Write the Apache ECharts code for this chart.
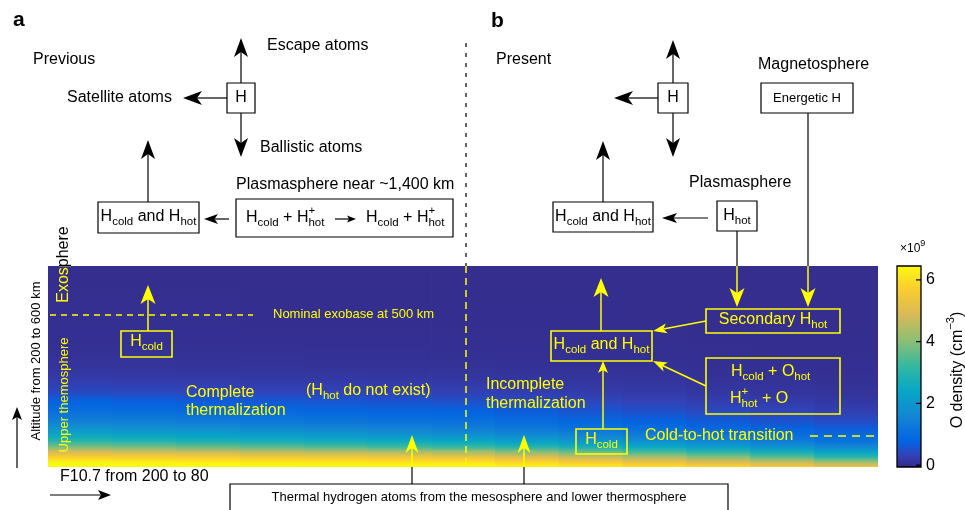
<!DOCTYPE html>
<html>
<head>
<meta charset="utf-8">
<script src="https://cdn.jsdelivr.net/npm/echarts@6/dist/echarts.min.js"></script>
<style>html,body{margin:0;padding:0;background:#fff}#c{width:965px;height:510px}</style>
</head>
<body>
<div id="c"></div>
<script>
// ---------------- DATA ----------------
// Solar flux (F10.7) columns, left to right
const f107 = [200, 190, 180, 170, 160, 150, 140, 130, 120, 110, 100, 90, 80];
// Altitude levels (km) at which O density is read
const altitudeKm = [200, 205, 210, 215, 220, 230, 240, 250, 260, 275, 290, 310, 330, 350, 375, 400, 450, 500, 600];
// O density (x1e9 cm^-3) at each altitude level, one array per F10.7 column
const densityF200 = [6.45, 6.40, 6.30, 6.00, 5.70, 4.90, 3.90, 3.10, 2.60, 2.00, 1.50, 1.05, 0.78, 0.42, 0.22, 0.10, 0.04, 0.02, 0.00];
const densityF190 = [6.45, 6.40, 6.25, 5.95, 5.65, 4.80, 3.80, 3.00, 2.50, 1.92, 1.45, 1.00, 0.73, 0.40, 0.21, 0.10, 0.04, 0.02, 0.00];
const densityF180 = [6.45, 6.40, 6.20, 5.90, 5.60, 4.70, 3.70, 2.90, 2.40, 1.85, 1.38, 0.96, 0.68, 0.38, 0.20, 0.09, 0.04, 0.02, 0.00];
const densityF170 = [6.45, 6.35, 6.15, 5.85, 5.50, 4.60, 3.55, 2.80, 2.30, 1.75, 1.30, 0.91, 0.64, 0.36, 0.19, 0.09, 0.03, 0.01, 0.00];
const densityF160 = [6.40, 6.35, 6.10, 5.80, 5.45, 4.50, 3.45, 2.70, 2.20, 1.65, 1.23, 0.86, 0.60, 0.34, 0.18, 0.08, 0.03, 0.01, 0.00];
const densityF150 = [6.40, 6.30, 6.05, 5.75, 5.40, 4.40, 3.30, 2.60, 2.10, 1.55, 1.16, 0.82, 0.56, 0.32, 0.17, 0.08, 0.03, 0.01, 0.00];
const densityF140 = [6.40, 6.30, 6.00, 5.70, 5.30, 4.30, 3.20, 2.50, 2.00, 1.45, 1.10, 0.78, 0.52, 0.30, 0.16, 0.07, 0.03, 0.01, 0.00];
const densityF130 = [6.30, 6.15, 5.80, 5.45, 5.00, 4.00, 2.95, 2.30, 1.83, 1.32, 0.99, 0.69, 0.45, 0.26, 0.14, 0.06, 0.02, 0.01, 0.00];
const densityF120 = [6.20, 5.95, 5.55, 5.15, 4.65, 3.70, 2.70, 2.10, 1.66, 1.19, 0.88, 0.60, 0.39, 0.22, 0.12, 0.05, 0.02, 0.01, 0.00];
const densityF110 = [6.00, 5.70, 5.25, 4.80, 4.30, 3.35, 2.45, 1.88, 1.48, 1.06, 0.77, 0.52, 0.33, 0.19, 0.10, 0.05, 0.02, 0.00, 0.00];
const densityF100 = [5.80, 5.45, 4.95, 4.45, 3.95, 3.00, 2.20, 1.66, 1.30, 0.93, 0.67, 0.44, 0.27, 0.16, 0.08, 0.04, 0.01, 0.00, 0.00];
const densityF90  = [5.55, 5.15, 4.60, 4.05, 3.50, 2.65, 1.93, 1.43, 1.12, 0.81, 0.57, 0.37, 0.22, 0.13, 0.07, 0.03, 0.01, 0.00, 0.00];
const densityF80  = [5.30, 4.80, 4.20, 3.60, 3.00, 2.30, 1.65, 1.20, 0.95, 0.70, 0.48, 0.30, 0.17, 0.10, 0.05, 0.03, 0.01, 0.00, 0.00];
const oDensity = [densityF200, densityF190, densityF180, densityF170, densityF160, densityF150, densityF140,
                  densityF130, densityF120, densityF110, densityF100, densityF90, densityF80];
// Colour bar
const colorbarTicks = [0, 2, 4, 6];
const colorRange = [-0.06, 6.45];

// ---------------- STYLE ----------------
const FONT = '"Liberation Sans", Arial, Helvetica, sans-serif';
const YEL = '#ffff00';
const PARULA = [[0, '#352a87'], [4/63, '#3243ba'], [8/63, '#0363e1'], [16/63, '#1485d4'], [24/63, '#06a7c6'], [32/63, '#38b99e'],
                [40/63, '#92bf73'], [48/63, '#d9ba56'], [56/63, '#fcce2e'], [1, '#f9fb0e']];

function hex2rgb(h) { return [parseInt(h.slice(1, 3), 16), parseInt(h.slice(3, 5), 16), parseInt(h.slice(5, 7), 16)]; }
function colorOf(v) {
  let t = (v - colorRange[0]) / (colorRange[1] - colorRange[0]);
  t = Math.max(0, Math.min(1, t));
  for (let i = 1; i < PARULA.length; i++) {
    if (t <= PARULA[i][0]) {
      const a = PARULA[i - 1], b = PARULA[i];
      const u = (t - a[0]) / (b[0] - a[0]);
      const ca = hex2rgb(a[1]), cb = hex2rgb(b[1]);
      return 'rgb(' + ca.map((c, k) => Math.round(c + (cb[k] - c) * u)).join(',') + ')';
    }
  }
  return PARULA[PARULA.length - 1][1];
}

const mctx = document.createElement('canvas').getContext('2d');
function textWidth(s, size, weight) { mctx.font = (weight || 'normal') + ' ' + size + 'px ' + FONT; return mctx.measureText(s).width; }
function txt(s, x, y, o) {
  o = o || {};
  const size = o.size || 16;
  return { type: 'text', x: x, y: y, z: o.z == null ? 100 : o.z, silent: true,
    style: { text: s, font: (o.weight || 'normal') + ' ' + size + 'px ' + FONT, fill: o.color || '#000',
      textAlign: o.align || 'left', textVerticalAlign: 'middle', align: o.align || 'left', verticalAlign: 'middle' } };
}
function mtext(segs, x, y, o) {
  o = o || {};
  const size = o.size || 16, small = o.small || 11.5, color = o.color || '#000';
  const items = []; let w = 0;
  segs.forEach(s => {
    if (typeof s === 'string') { items.push({ t: s, dx: w, dy: 0, size: size }); w += textWidth(s, size); }
    else {
      let ww = 0;
      if (s.sup != null) { items.push({ t: s.sup, dx: w, dy: -size * 0.42, size: small }); ww = Math.max(ww, textWidth(s.sup, small)); }
      if (s.sub != null) { items.push({ t: s.sub, dx: w, dy: size * 0.29, size: small }); ww = Math.max(ww, textWidth(s.sub, small)); }
      w += ww;
    }
  });
  const x0 = o.align === 'center' ? x - w / 2 : x;
  return items.map(it => txt(it.t, x0 + it.dx, y + it.dy, { size: it.size, color: color, z: o.z }));
}
function rotGroup(children, x, y, z) {
  return { type: 'group', x: x, y: y, rotation: Math.PI / 2, z: z == null ? 100 : z, children: children };
}
function rect(x, y, w, h, o) {
  o = o || {};
  return { type: 'rect', z: 99, silent: true, shape: { x: x, y: y, width: w, height: h },
    style: { fill: o.fill || 'rgba(0,0,0,0)', stroke: o.color || '#000', lineWidth: o.lw || 1.2 } };
}
function seg(x1, y1, x2, y2, o) {
  o = o || {};
  return { type: 'line', z: 100, silent: true, shape: { x1: x1, y1: y1, x2: x2, y2: y2 },
    style: { stroke: o.color || '#000', lineWidth: o.lw || 1.2, lineDash: o.dash || null } };
}
function arrow(x1, y1, x2, y2, o) {
  o = o || {};
  const L = o.L || 19, W = o.W || 7, N = o.N == null ? 5 : o.N, color = o.color || '#000', lw = o.lw || 1.2;
  const dx = x2 - x1, dy = y2 - y1, len = Math.hypot(dx, dy), ux = dx / len, uy = dy / len, px = -uy, py = ux;
  const bx = x2 - ux * L, by = y2 - uy * L, nx = x2 - ux * (L - N), ny = y2 - uy * (L - N);
  return [
    { type: 'line', z: 100, silent: true, shape: { x1: x1, y1: y1, x2: nx, y2: ny }, style: { stroke: color, lineWidth: lw } },
    { type: 'polygon', z: 100, silent: true, shape: { points: [[x2, y2], [bx + px * W, by + py * W], [nx, ny], [bx - px * W, by - py * W]] }, style: { fill: color } }
  ];
}

// ---------------- ANNOTATIONS ----------------
const G = [];
const add = a => Array.isArray(a) ? a.forEach(e => G.push(e)) : G.push(a);
// panel a
add(txt('a', 13, 20, { size: 21, weight: 'bold' }));
add(txt('Previous', 33, 60));
add(txt('Escape atoms', 267, 46));
add(txt('Satellite atoms', 67, 98));
add(txt('Ballistic atoms', 260, 147.5));
add(rect(227, 83, 28, 30, { fill: '#fff' }));
add(txt('H', 241, 98, { align: 'center' }));
add(arrow(241, 83, 241, 38));
add(arrow(227, 98, 183, 98));
add(arrow(241, 113, 241, 157));
add(rect(98, 202, 101, 31, { fill: '#fff' }));
add(mtext(['H', { sub: 'cold' }, ' and H', { sub: 'hot' }], 148.5, 217, { align: 'center' }));
add(arrow(148, 202, 148, 140));
add(txt('Plasmasphere near ~1,400 km', 236, 184.5));
add(rect(236, 199, 217, 38, { fill: '#fff' }));
add(mtext(['H', { sub: 'cold' }, ' + H', { sup: '+', sub: 'hot' }], 246, 218));
add(arrow(335, 219, 356, 219, { L: 9, W: 3.5, N: 2 }));
add(mtext(['H', { sub: 'cold' }, ' + H', { sup: '+', sub: 'hot' }], 366, 218));
add(arrow(229, 219, 204, 219, { L: 14, W: 5, N: 3.5 }));
// separator
add(seg(466, 43, 466, 266, { dash: [4, 6], lw: 1.2 }));
add(seg(466, 266, 466, 467, { dash: [7, 5], lw: 1.5, color: YEL }));
// panel b
add(txt('b', 491, 21, { size: 21, weight: 'bold' }));
add(txt('Present', 496, 60));
add(rect(658, 83, 30, 30, { fill: '#fff' }));
add(txt('H', 673, 98, { align: 'center' }));
add(arrow(673, 83, 673, 40));
add(arrow(658, 98, 614, 98));
add(arrow(673, 113, 673, 157));
add(txt('Magnetosphere', 758, 65));
add(rect(761, 83, 92, 30, { fill: '#fff' }));
add(txt('Energetic H', 807, 98, { size: 13, align: 'center' }));
add(txt('Plasmasphere', 689, 182.5));
add(rect(717, 201, 40, 30, { fill: '#fff' }));
add(mtext(['H', { sub: 'hot' }], 737, 216, { align: 'center' }));
add(rect(553, 202, 100, 30, { fill: '#fff' }));
add(mtext(['H', { sub: 'cold' }, ' and H', { sub: 'hot' }], 603, 217, { align: 'center' }));
add(arrow(603, 202, 603, 141));
add(arrow(708, 218, 662, 218, { L: 15, W: 5, N: 3.5 }));
add(seg(808, 113, 808, 266));
add(arrow(808, 266, 808, 307, { color: YEL, lw: 1.5, W: 7.5 }));
add(seg(737, 231, 737, 266));
add(arrow(737, 266, 737, 307, { color: YEL, lw: 1.5, W: 7.5 }));
// axes hints
add(rotGroup([txt('Altitude from 200 to 600 km', 0, 0, { size: 13, align: 'center' })], 36, 361));
add(arrow(17, 468, 17, 407, { L: 13, W: 5, N: 3 }));
add(txt('F10.7 from 200 to 80', 60, 477));
add(arrow(50, 495, 111, 495, { L: 13, W: 5, N: 3 }));
// bottom source box
add(rect(230, 484, 498, 32, { fill: '#fff' }));
add(txt('Thermal hydrogen atoms from the mesosphere and lower thermosphere', 479, 497, { size: 13, align: 'center' }));
add(seg(412, 484, 412, 467));
add(arrow(412, 467, 412, 435, { color: YEL, lw: 1.5, L: 18, W: 6.5 }));
add(seg(524, 484, 524, 467));
add(arrow(524, 467, 524, 435, { color: YEL, lw: 1.5, L: 18, W: 6.5 }));
// black part of "Exosphere" (under the heat map)
add(rotGroup([txt('Exosphere', 0, 0, { align: 'center', z: 0 })], 64, 264.5, 0));
// yellow annotations on the heat map
add(rotGroup([txt('Upper themosphere', 0, 0, { size: 13, align: 'center', color: YEL })], 64, 395));
add(seg(50, 315, 253, 315, { dash: [6, 5], lw: 1.6, color: YEL }));
add(txt('Nominal exobase at 500 km', 273, 314, { size: 13, color: YEL }));
add(rect(121, 331, 51, 26, { color: YEL, lw: 1.6 }));
add(mtext(['H', { sub: 'cold' }], 146.5, 342, { align: 'center', color: YEL }));
add(arrow(148, 331, 148, 285, { color: YEL, lw: 1.5, W: 7.5 }));
add(txt('Complete', 186, 393, { color: YEL }));
add(txt('thermalization', 186, 411, { color: YEL }));
add(mtext(['(H', { sub: 'hot' }, ' do not exist)'], 306, 391, { color: YEL }));
add(txt('Incomplete', 486, 385, { color: YEL }));
add(txt('thermalization', 486, 404, { color: YEL }));
add(rect(576, 429, 51, 25, { color: YEL, lw: 1.6 }));
add(mtext(['H', { sub: 'cold' }], 601.5, 440, { align: 'center', color: YEL }));
add(arrow(603, 429, 603, 361, { color: YEL, lw: 1.5, L: 12, W: 5, N: 3 }));
add(rect(551, 331, 101, 30, { color: YEL, lw: 1.6 }));
add(mtext(['H', { sub: 'cold' }, ' and H', { sub: 'hot' }], 601.5, 345, { align: 'center', color: YEL }));
add(arrow(601, 331, 601, 278, { color: YEL, lw: 1.5, W: 7.5 }));
add(rect(706, 309, 134, 24, { color: YEL, lw: 1.6 }));
add(mtext(['Secondary H', { sub: 'hot' }], 773, 320, { align: 'center', color: YEL }));
add(arrow(706, 321, 653, 331, { color: YEL, lw: 1.5, L: 14, W: 5, N: 3.5 }));
add(rect(706, 358, 134, 56, { color: YEL, lw: 1.6 }));
add(mtext(['H', { sub: 'cold' }, ' + O', { sub: 'hot' }], 731, 372, { color: YEL }));
add(mtext(['H', { sup: '+', sub: 'hot' }, ' + O'], 730, 399, { color: YEL }));
add(arrow(706, 386, 653, 361, { color: YEL, lw: 1.5, L: 14, W: 5, N: 3.5 }));
add(txt('Cold-to-hot transition', 645, 436, { color: YEL }));
add(seg(810, 436, 878, 436, { dash: [8, 6], lw: 1.6, color: YEL }));
// colour bar titles
add(mtext(['\u00d710', { sup: '9' }], 900, 249, { size: 12, small: 9 }));
add(rotGroup(mtext(['O density (cm', { sup: '\u22123' }, ')'], 0, 0, { align: 'center', small: 11 }), 958, 370));

// ---------------- CHART ----------------
const halfStep = Math.abs(f107[1] - f107[0]) / 2;
const altTop = altitudeKm[altitudeKm.length - 1], altBottom = altitudeKm[0];

function renderHeatColumn(params, api) {
  const f = api.value(0), idx = api.value(2);
  const vals = oDensity[idx];
  const pa = api.coord([f + halfStep, altTop]);
  const pb = api.coord([f - halfStep, altBottom]);
  const x = Math.min(pa[0], pb[0]);
  const w = Math.abs(pb[0] - pa[0]) + (idx < f107.length - 1 ? 0.8 : 0);
  const stops = altitudeKm.map((a, k) => ({ offset: (altTop - a) / (altTop - altBottom), color: colorOf(vals[k]) }))
    .sort((p, q) => p.offset - q.offset);
  return { type: 'rect', shape: { x: x, y: pa[1], width: w, height: pb[1] - pa[1] },
    style: { fill: new echarts.graphic.LinearGradient(0, 0, 0, 1, stops) } };
}
function renderColorbar(params, api) {
  const pa = api.coord([0, colorRange[1]]);
  const pb = api.coord([1, colorRange[0]]);
  const stops = PARULA.map(p => ({ offset: 1 - p[0], color: p[1] })).sort((p, q) => p.offset - q.offset);
  const children = [{ type: 'rect', shape: { x: pa[0], y: pa[1], width: pb[0] - pa[0], height: pb[1] - pa[1] },
    style: { fill: new echarts.graphic.LinearGradient(0, 0, 0, 1, stops), stroke: '#000', lineWidth: 1.3 } }];
  colorbarTicks.forEach(v => {
    const y = api.coord([1, v])[1];
    children.push({ type: 'line', shape: { x1: pb[0] - 5, y1: y, x2: pb[0], y2: y }, style: { stroke: '#000', lineWidth: 1.2 } });
  });
  return { type: 'group', children: children };
}

const chart = echarts.init(document.getElementById('c'), null, { renderer: 'canvas' });
chart.setOption({
  animation: false,
  backgroundColor: '#fff',
  grid: [
    { left: 48, top: 266, width: 830, height: 201 },
    { left: 897, top: 266, width: 24, height: 201 }
  ],
  xAxis: [
    { gridIndex: 0, type: 'value', min: Math.min(...f107) - halfStep, max: Math.max(...f107) + halfStep, inverse: true, show: false },
    { gridIndex: 1, type: 'value', min: 0, max: 1, show: false }
  ],
  yAxis: [
    { gridIndex: 0, type: 'value', min: altBottom, max: altTop, show: false },
    { gridIndex: 1, type: 'value', position: 'right', min: colorRange[0], max: colorRange[1], z: 5,
      axisLine: { show: false }, splitLine: { show: false }, axisTick: { show: false },
      axisLabel: { customValues: colorbarTicks, color: '#000', fontSize: 16, fontFamily: FONT, margin: 5 } }
  ],
  series: [
    { type: 'custom', name: 'O density', xAxisIndex: 0, yAxisIndex: 0, z: 2, silent: true,
      data: f107.map((f, i) => [f, 400, i]), encode: { x: 0, y: 1 }, renderItem: renderHeatColumn },
    { type: 'custom', name: 'exosphere label', xAxisIndex: 0, yAxisIndex: 0, z: 3, clip: true, silent: true,
      data: [[140, 400]], encode: { x: 0, y: 1 },
      renderItem: function () {
        return { type: 'text', x: 64, y: 264.5, rotation: Math.PI / 2,
          style: { text: 'Exosphere', font: '16px ' + FONT, fill: YEL, align: 'center', verticalAlign: 'middle',
            textAlign: 'center', textVerticalAlign: 'middle' } };
      } },
    { type: 'custom', name: 'colorbar', xAxisIndex: 1, yAxisIndex: 1, z: 2, silent: true,
      data: [[0.5, 0]], encode: { x: 0, y: 1 }, renderItem: renderColorbar }
  ],
  graphic: { elements: G }
});
</script>
</body>
</html>
